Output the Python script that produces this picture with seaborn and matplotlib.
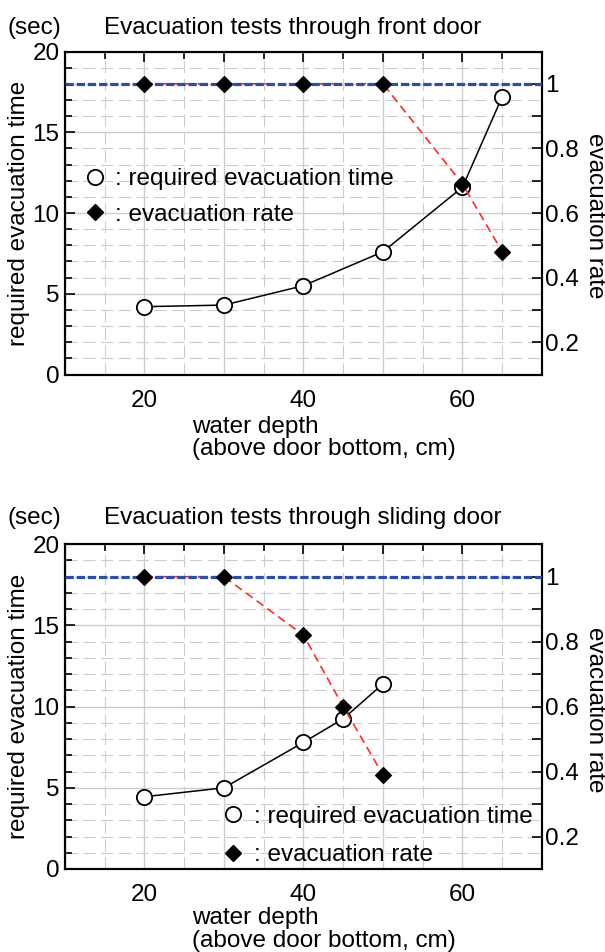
# 导入必要的库
import matplotlib
matplotlib.use('Agg')
import matplotlib.pyplot as plt
import seaborn as sns
from matplotlib.lines import Line2D
from matplotlib.ticker import MultipleLocator, FixedLocator, FuncFormatter

# 数据
front_depth = [20, 30, 40, 50, 60, 65]
front_time = [4.2, 4.3, 5.5, 7.6, 11.6, 17.2]
front_rate = [1.0, 1.0, 1.0, 1.0, 0.69, 0.48]

sliding_depth = [20, 30, 40, 45, 50]
sliding_time = [4.45, 5.0, 7.8, 9.25, 11.4]
sliding_rate = [1.0, 1.0, 0.82, 0.6, 0.39]

panel_titles = ['Evacuation tests through front door',
                'Evacuation tests through sliding door']
full_rate = 1.0
x_tick_labels = [20, 40, 60]
rate_ticks = [0.2, 0.4, 0.6, 0.8, 1.0]
legend_labels = [': required evacuation time', ': evacuation rate']

# 样式设置
sns.set_style('white')
plt.rcParams['font.family'] = ['Liberation Sans', 'DejaVu Sans']
plt.rcParams['font.size'] = 17.5
for key in ['text.color', 'axes.labelcolor', 'xtick.color', 'ytick.color']:
    plt.rcParams[key] = 'black'

GRID_C = '#cccccc'
BLUE = '#2c4fa3'
RED = '#ff2a2a'


def draw_panel(fig, rect, depth, time, rate, title, title_y, xlabel_y,
               legend_anchor, legend_spacing):
    ax = fig.add_axes(rect)
    ax2 = ax.twinx()

    # 所需疏散时间（左轴）
    sns.lineplot(x=depth, y=time, ax=ax, color='black', linewidth=1.1,
                 marker='o', markersize=11, markerfacecolor='white',
                 markeredgecolor='black', markeredgewidth=1.3, zorder=3)

    # 疏散率（右轴）
    sns.lineplot(x=depth, y=rate, ax=ax2, color=RED, linewidth=1.2,
                 linestyle=(0, (5, 3)), zorder=2)
    ax2.axhline(full_rate, color=BLUE, linewidth=2.3,
                linestyle=(0, (2.6, 0.9)), zorder=3)
    sns.scatterplot(x=depth, y=rate, ax=ax2, marker='D', s=64, color='black',
                    edgecolor='black', linewidth=1, zorder=4)

    ax.set_xlim(10, 70)
    ax.set_ylim(0, 20)
    ax2.set_ylim(0.1, 1.1)

    ax.xaxis.set_major_locator(MultipleLocator(10))
    ax.xaxis.set_minor_locator(MultipleLocator(5))
    ax.xaxis.set_major_formatter(FuncFormatter(
        lambda v, p: f'{v:g}' if round(v) in x_tick_labels else ''))
    ax.yaxis.set_major_locator(MultipleLocator(5))
    ax.yaxis.set_minor_locator(MultipleLocator(1))
    ax2.yaxis.set_major_locator(FixedLocator(rate_ticks))
    ax2.yaxis.set_minor_locator(MultipleLocator(0.1))
    ax2.yaxis.set_major_formatter(FuncFormatter(lambda v, p: f'{v:g}'))

    ax.grid(which='major', color=GRID_C, linewidth=1.0, linestyle='-')
    ax.grid(which='minor', color=GRID_C, linewidth=0.8, linestyle=(0, (11, 5)))
    ax.set_axisbelow(True)
    ax2.grid(False)

    ax.tick_params(which='both', direction='in', top=True, right=False,
                   width=1.2, colors='black')
    ax.tick_params(which='major', length=7)
    ax.tick_params(which='minor', length=5)
    ax.tick_params(axis='x', pad=11)
    ax.tick_params(axis='y', pad=4)
    ax2.tick_params(which='both', direction='in', length=7, width=1.2, pad=2.5)
    for a in (ax, ax2):
        for s in a.spines.values():
            s.set_linewidth(1.5)
            s.set_color('black')

    ax.set_ylabel('required evacuation time', va='center')
    ax.yaxis.set_label_coords(-0.096, 0.5)
    ax2.set_ylabel('evacuation rate', rotation=270, va='center')
    ax2.yaxis.set_label_coords(1.111, 0.49)
    ax.set_xlabel('water depth\n(above door bottom, cm)', ha='left',
                  linespacing=1.04)
    ax.xaxis.set_label_coords(0.2656, xlabel_y)

    ax.text(-0.1195, title_y, '(sec)', transform=ax.transAxes,
            ha='left', va='center')
    ax.text(0.0818, title_y, title, transform=ax.transAxes,
            ha='left', va='center')

    handles = [Line2D([], [], linestyle='', marker='o', markersize=11,
                      markerfacecolor='white', markeredgecolor='black',
                      markeredgewidth=1.3),
               Line2D([], [], linestyle='', marker='D', markersize=8,
                      markerfacecolor='black', markeredgecolor='black')]
    ax2.legend(handles, legend_labels, loc='center left',
               bbox_to_anchor=legend_anchor, frameon=False,
               handlelength=0.8, handletextpad=0.45,
               labelspacing=legend_spacing,
               borderpad=0, borderaxespad=0, fontsize=17.5)
    return ax, ax2


fig = plt.figure(figsize=(6.05, 9.52), dpi=100)
draw_panel(fig, [0.1074, 0.6066, 0.7884, 0.3393], front_depth, front_time,
           front_rate, panel_titles[0], 1.072, -0.127, (0.042, 0.55), 0.55)
draw_panel(fig, [0.1074, 0.0872, 0.7884, 0.3411], sliding_depth, sliding_time,
           sliding_rate, panel_titles[1], 1.08, -0.118, (0.332, 0.1016), 0.68)

fig.savefig('out.png', dpi=100)
